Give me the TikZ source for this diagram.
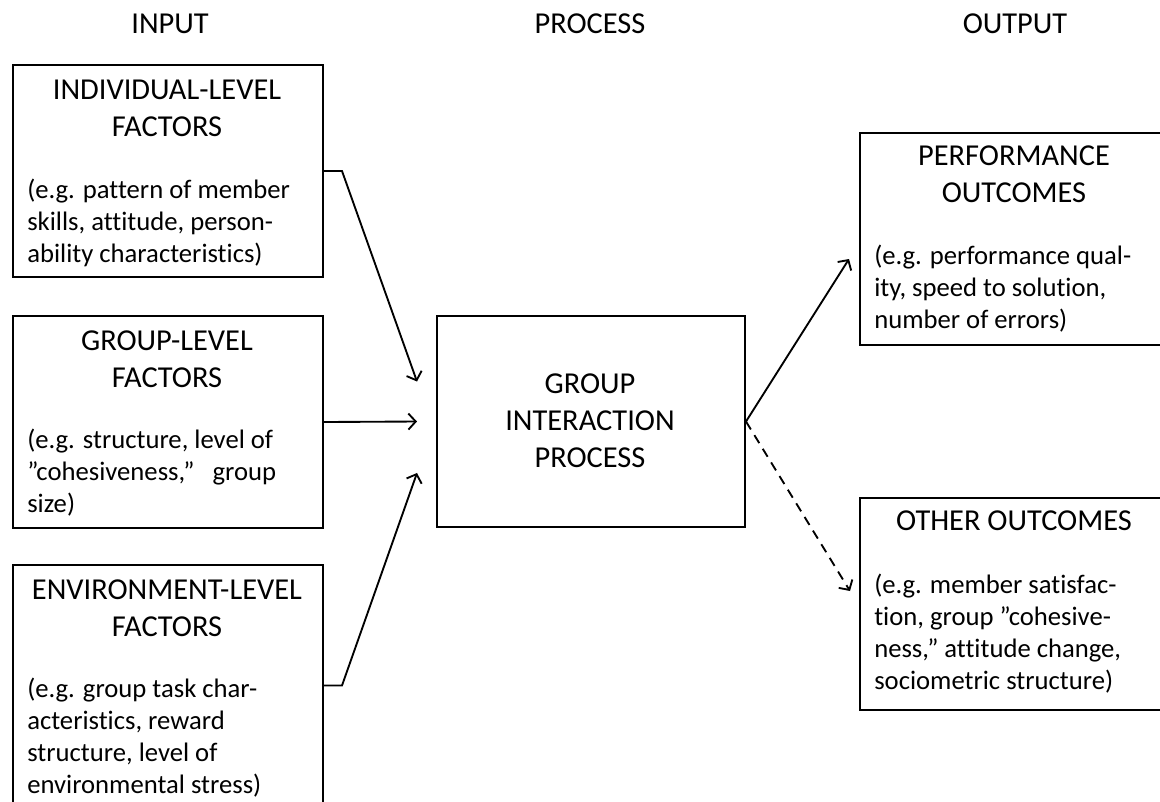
\documentclass[tikz,border=0pt]{standalone}
\usepackage{fontspec}
\setmainfont[Ligatures=NoCommon]{Carlito}
\usetikzlibrary{arrows.meta}
\newcommand\headfont{\fontsize{22.8}{27.75}\selectfont}
\newcommand\bodyfont{\fontsize{20}{24}\selectfont}
\tikzset{
  box/.style={draw, line width=1.5pt, anchor=north west, inner sep=0pt, minimum width=232.5pt},
  head/.style={font=\headfont, align=center, anchor=base, inner sep=0pt},
  bodytxt/.style={font=\bodyfont, align=left, anchor=base west, inner sep=0pt},
  arr/.style={line width=1.4pt, -{Straight Barb[length=5.5pt,width=12pt,line width=1.4pt]}},
}
\begin{document}
\begin{tikzpicture}[x=0.75pt, y=-0.75pt]
\useasboundingbox (0,0) rectangle (1160,801);
\clip (0,0) rectangle (1160,801);
\fill[white] (0,0) rectangle (1160,801);

% column titles
\node[head] (tin)  at (170,33)  {INPUT};
\node[head] (tpr)  at (590,33)  {PROCESS};
\node[head] (tout) at (1015,33) {OUTPUT};

% input boxes (anchor = baseline of last line)
\node[box, minimum height=159pt] (b1) at (12,64) {};
\node[head] (h1) at (167,136) {INDIVIDUAL-LEVEL\\FACTORS};
\node[bodytxt] (t1) at (27,262) {(e.g. pattern of member\\skills, attitude, person-\\ability characteristics)};

\node[box, minimum height=159pt] (b2) at (12,315) {};
\node[head] (h2) at (167,387) {GROUP-LEVEL\\FACTORS};
\node[bodytxt] (t2) at (27,512) {(e.g. structure, level of\\\char"201D cohesiveness,\char"201D\ \ \ group\\size)};

\node[box, minimum height=180.75pt] (b3) at (12,564) {};
\node[head] (h3) at (167,636) {ENVIRONMENT-LEVEL\\FACTORS};
\node[bodytxt] (t3) at (27,793) {(e.g. group task char-\\acteristics, reward\\structure, level of\\environmental stress)};

% process box
\node[box, minimum width=231pt, minimum height=158.25pt] (c) at (436,315) {};
\node[head] (hc) at (590,467) {GROUP\\INTERACTION\\PROCESS};

% output boxes
\node[box, minimum width=233.25pt, minimum height=159pt] (p) at (859,132) {};
\node[head] (hp) at (1014,202) {PERFORMANCE\\OUTCOMES};
\node[bodytxt] (tp) at (874,328) {(e.g. performance qual-\\ity, speed to solution,\\number of errors)};

\node[box, minimum width=233.25pt, minimum height=159pt] (o) at (859,497) {};
\node[head] (ho) at (1014,530) {OTHER OUTCOMES};
\node[bodytxt] (to) at (874,689) {(e.g. member satisfac-\\tion, group \char"201D cohesive-\\ness,\char"201D\ attitude change,\\sociometric structure)};

% connectors
\draw[arr] (b1.east) -- ++(13.5pt,0) -- ([xshift=-14.25pt, yshift=30pt]c.west);
\draw[arr] (b2.east) -- ([xshift=-14.25pt]c.west);
\draw[arr] (b3.east) -- ++(13.5pt,0) -- ([xshift=-14.25pt, yshift=-38.6pt]c.west);
\draw[arr] (c.east) -- ([xshift=-7.5pt, yshift=-15pt]p.west);
\draw[arr, dash pattern=on 7pt off 5pt] (c.east) -- ([xshift=-6.75pt, yshift=9.75pt]o.west);
\end{tikzpicture}
\end{document}
